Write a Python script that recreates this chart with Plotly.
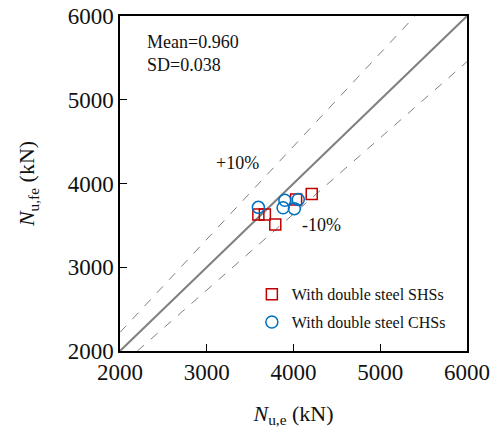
import plotly.graph_objects as go

# Data
shs_exp = [4210, 4030, 3595, 3670, 3790]
shs_fe = [3875, 3810, 3630, 3630, 3510]
chs_exp = [3595, 3900, 4055, 3880, 4010]
chs_fe = [3715, 3800, 3810, 3710, 3700]

axis_min, axis_max = 2000, 6000
tick_vals = [2000, 3000, 4000, 5000, 6000]

FONT = "Liberation Serif"
RED = "#C00000"
BLUE = "#0070C0"

fig = go.Figure()

# 1:1 line
fig.add_trace(go.Scatter(x=[axis_min, axis_max], y=[axis_min, axis_max], mode="lines",
                         line=dict(color="#808080", width=2), showlegend=False, hoverinfo="skip"))
# +10% line (y = x/0.9)
fig.add_trace(go.Scatter(x=[axis_min, axis_max * 0.9], y=[axis_min / 0.9, axis_max], mode="lines",
                         line=dict(color="#808080", width=1, dash="dash"), showlegend=False, hoverinfo="skip"))
# -10% line (y = x/1.1)
fig.add_trace(go.Scatter(x=[axis_min * 1.1, axis_max], y=[axis_min, axis_max / 1.1], mode="lines",
                         line=dict(color="#808080", width=1, dash="dash"), showlegend=False, hoverinfo="skip"))

fig.add_trace(go.Scatter(x=shs_exp, y=shs_fe, mode="markers", name="With double steel SHSs",
                         legendgroup="a",
                         marker=dict(symbol="square-open", size=11, color=RED, line=dict(width=1.5, color=RED))))
fig.add_trace(go.Scatter(x=chs_exp, y=chs_fe, mode="markers", name="With double steel CHSs",
                         legendgroup="b",
                         marker=dict(symbol="circle-open", size=12, color=BLUE, line=dict(width=1.5, color=BLUE))))

axis_common = dict(range=[axis_min, axis_max], tickvals=tick_vals, ticks="inside", ticklen=7,
                   tickwidth=1, tickcolor="black", showline=True, linecolor="black", linewidth=1.5,
                   mirror=True, showgrid=False, zeroline=False, automargin=False,
                   tickfont=dict(family=FONT, size=23, color="#111111"))

fig.update_xaxes(**axis_common,
                 title=dict(text="<i>N</i><sub>u,e</sub> (kN)", font=dict(family=FONT, size=22, color="#111111"),
                            standoff=21))
fig.update_yaxes(**axis_common,
                 title=dict(text="<i>N</i><sub>u,fe</sub> (kN)", font=dict(family=FONT, size=22, color="#111111"),
                            standoff=27))

fig.add_annotation(x=0.072, y=0.922, xref="paper", yref="paper", text="Mean=0.960", showarrow=False,
                   xanchor="left", yanchor="middle", font=dict(family=FONT, size=18, color="#111111"))
fig.add_annotation(x=0.072, y=0.854, xref="paper", yref="paper", text="SD=0.038", showarrow=False,
                   xanchor="left", yanchor="middle", font=dict(family=FONT, size=18, color="#111111"))
fig.add_annotation(x=3360, y=4245, text="+10%", showarrow=False,
                   font=dict(family=FONT, size=18, color="#111111"))
fig.add_annotation(x=4325, y=3504, text="-10%", showarrow=False,
                   font=dict(family=FONT, size=18, color="#111111"))

fig.update_layout(
    width=493, height=433,
    margin=dict(l=120, r=26, t=16, b=82, autoexpand=False),
    paper_bgcolor="white", plot_bgcolor="white",
    showlegend=True,
    legend=dict(x=0.38, y=0.22, xanchor="left", yanchor="top", bgcolor="rgba(0,0,0,0)",
                font=dict(family=FONT, size=16, color="#111111"), tracegroupgap=4,
                itemwidth=30),
)

fig.write_html("out.html")
